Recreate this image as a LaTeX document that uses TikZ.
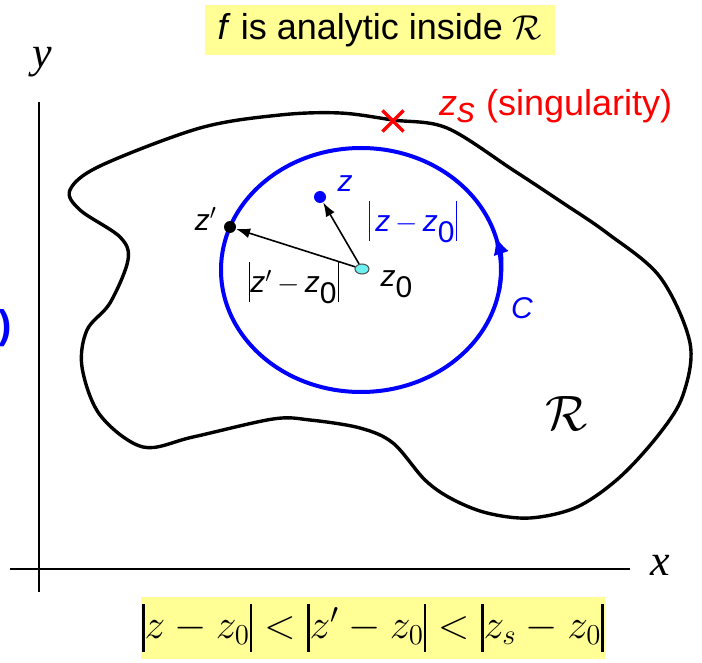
\documentclass[tikz,border=0pt]{standalone}
\usepackage{fontspec}
\setmainfont{Liberation Sans}
\newfontfamily\timesfont{Liberation Serif}
\usetikzlibrary{arrows.meta,shapes.misc,shapes.geometric}
\definecolor{hlyellow}{RGB}{255,255,150}
\definecolor{dotcyan}{RGB}{110,240,240}
\newcommand{\zi}{\textit{z}}
\newcommand{\zsub}[1]{$_{\textrm{#1}}$}
\newcommand{\zbar}[1]{\rule[-0.32em]{0.06em}{#1em}}
\newcommand{\zabs}[1]{\zbar{1.33}#1\zbar{1.33}}

\begin{document}
\begin{tikzpicture}[x=0.5pt, y=-0.5pt,
    dotnode/.style={circle, inner sep=0pt, minimum size=6pt},
    hlbox/.style={fill=hlyellow, inner sep=0pt},
    lbl/.style={font=\fontsize{15}{18}\selectfont}]
  \useasboundingbox (0,0) rectangle (702,663);

  % axes
  \draw[line width=1pt] (10,569) -- (630,569);
  \draw[line width=1pt] (39,102) -- (39,592);
  \node[font=\fontsize{22}{24}\selectfont\timesfont\itshape] (ylab) at (42,62) {y};
  \node[font=\fontsize{22}{24}\selectfont\timesfont\itshape] (xlab) at (660,565) {x};
  \node[blue, anchor=east, inner sep=0pt, font=\fontsize{20}{22}\selectfont\bfseries] (cut) at (12,328) {)};

  % region R
  \draw[line width=1.7pt] plot[smooth cycle, tension=0.55] coordinates {
    (70,190) (100,166) (200,128) (280,115) (340,113) (393,120) (447,128)
    (513,170) (563,203) (607,233) (660,277) (690,343) (683,395) (660,433)
    (620,477) (577,507) (530,518) (487,513) (452,499) (425,480) (393,443)
    (360,428) (310,420) (273,419) (193,437) (143,447) (100,415) (82,367)
    (87,330) (110,303) (128,260) (120,237) (80,210)};
  \node[font=\fontsize{26}{28}\selectfont] (R) at (567,413) {$\mathcal{R}$};

  % contour C
  \draw[blue, line width=2pt] (361,270) ellipse [x radius=140, y radius=122];
  \draw[blue, line width=2pt, -{Latex[length=9pt, width=8pt]}]
    (361,270) ++(10:140 and 122) arc[start angle=10, end angle=-16, x radius=140, y radius=122];
  \node[blue, lbl] (C) at (522,308) {\textit{C}};

  % points
  \node[ellipse, fill=dotcyan, draw=black!70, line width=0.5pt, inner sep=0pt, minimum width=7pt, minimum height=5pt] (z0) at (362,269) {};
  \node[dotnode, fill=blue] (z) at (320,197) {};
  \node[dotnode, fill=black] (zp) at (230,227) {};
  \node[cross out, draw=red, line width=1.6pt, minimum size=9pt, inner sep=0pt] (zs) at (393,121) {};

  \node[lbl] at (397,284) {\zi\zsub{0}};
  \node[blue, lbl] at (345,184) {\zi};
  \node[lbl] at (206,219) {\zi$'$};

  \draw[line width=0.8pt, -{Latex[length=7pt, width=5pt]}] (z0) -- (z);
  \draw[line width=0.8pt, -{Latex[length=7pt, width=5pt]}] (z0) -- (zp);

  \node[blue, lbl] at (413,222) {\zabs{\,\zi\,$-$\,\zi\zsub{0}}};
  \node[lbl] at (294,283) {\zabs{\zi$'$\,$-$\,\zi\zsub{0}}};

  \node[red, font=\fontsize{18}{20}\selectfont, anchor=west] at (432,106) {\zi$_{\textit{s}}$ (singularity)};

  % boxes
  \node[hlbox, minimum width=175pt, minimum height=25pt, font=\fontsize{18}{20}\selectfont] (title) at (380,30)
    {\textit{f} is analytic inside $\mathcal{R}$};
  \node[hlbox, minimum width=232pt, minimum height=31pt, font=\fontsize{21}{24}\selectfont] (ineq) at (373,628)
    {$\zbar{1.15}z-z_0\zbar{1.15}<\zbar{1.15}z'-z_0\zbar{1.15}<\zbar{1.15}z_s-z_0\zbar{1.15}$};
\end{tikzpicture}
\end{document}
